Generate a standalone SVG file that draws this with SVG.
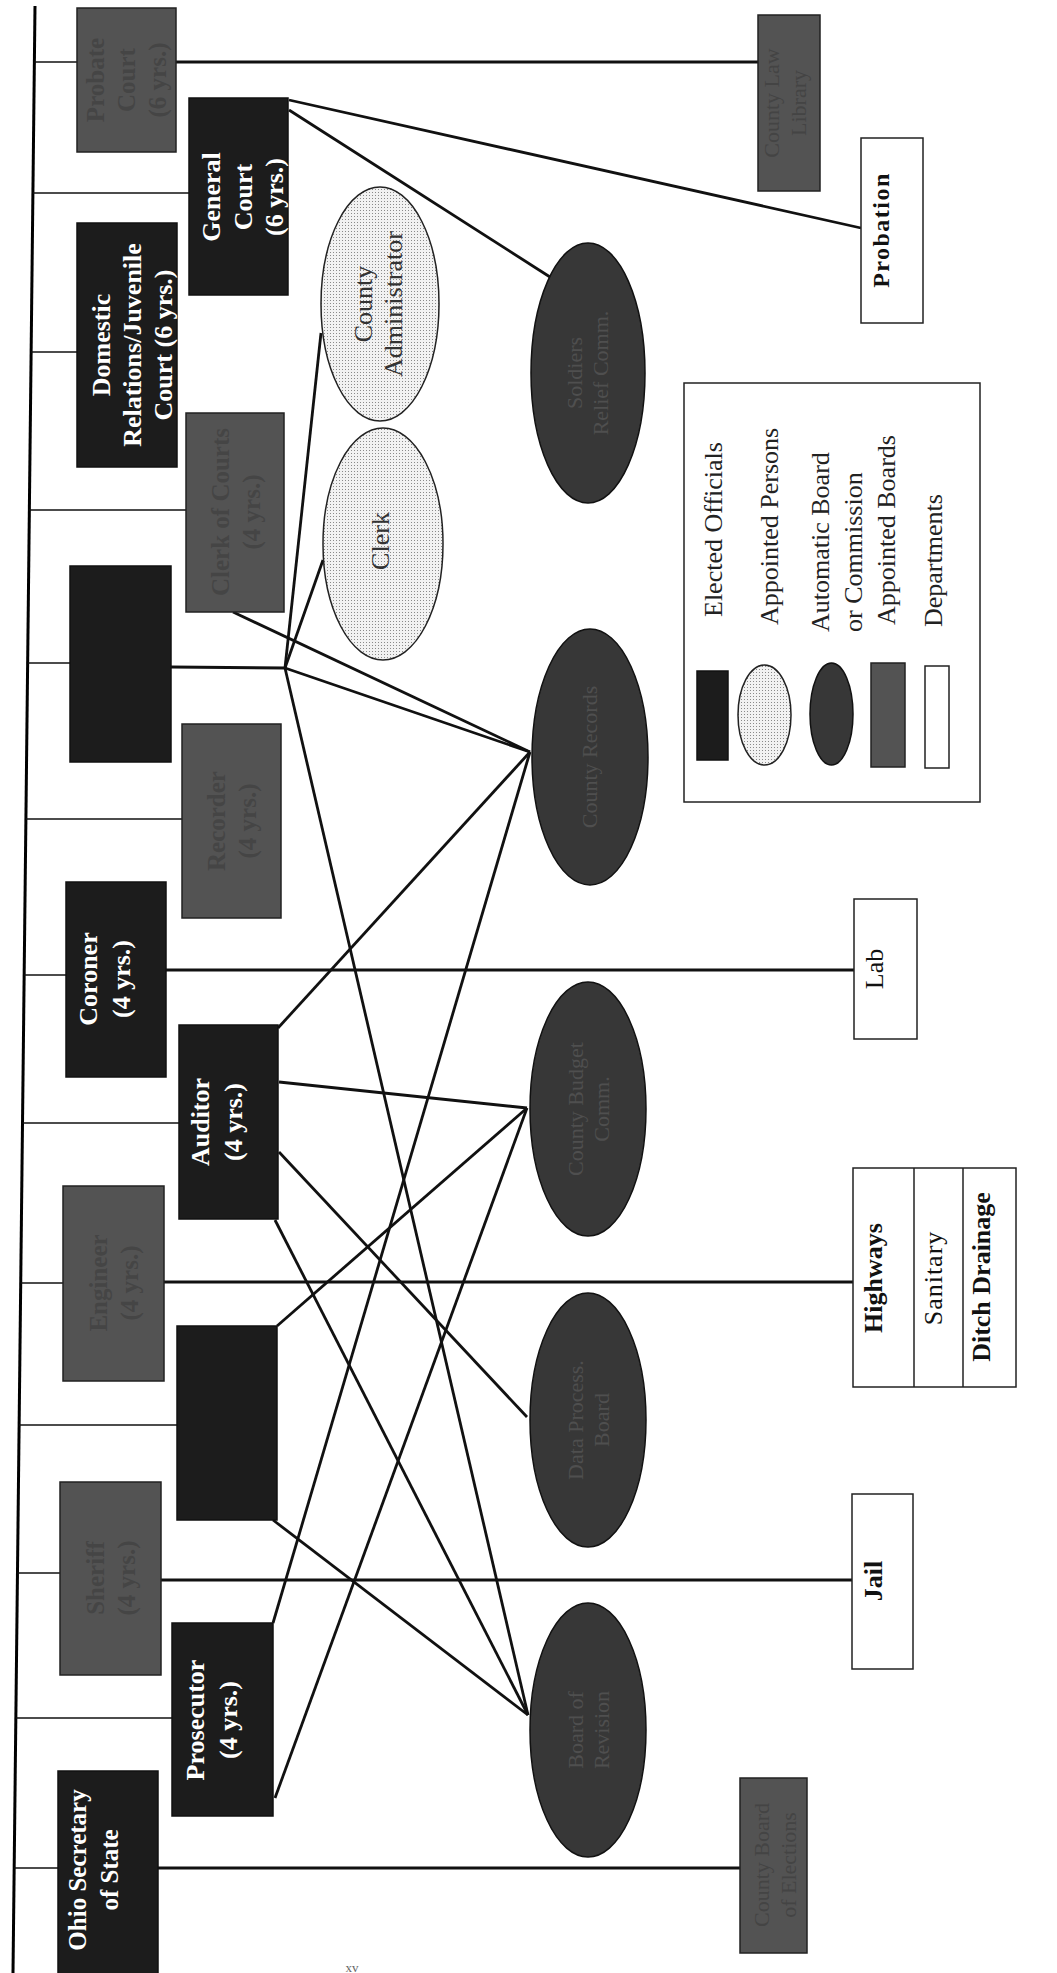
<svg xmlns="http://www.w3.org/2000/svg" width="1057" height="1973" viewBox="0 0 1057 1973">
<style>
text{font-family:"Liberation Serif","Times New Roman",serif;}
.elected{fill:#1c1c1c;stroke:#111;stroke-width:1.5;}
.board{fill:#535353;stroke:#222;stroke-width:1.5;}
.auto{fill:#373737;stroke:#111;stroke-width:1.5;}
.person{fill:url(#dots);stroke:#222;stroke-width:1.5;}
.dept{fill:#fff;stroke:#222;stroke-width:1.5;}
.wt{fill:#fff;font-weight:bold;font-size:26px;text-anchor:middle;}
.ft{fill:#454545;font-weight:bold;font-size:25px;text-anchor:middle;}
.fe{fill:#4f4f4f;font-size:22px;text-anchor:middle;}
.fb{fill:#444;font-size:22px;text-anchor:middle;}
.pt{fill:#333;font-size:26px;text-anchor:middle;}
.dt{fill:#111;font-size:26px;text-anchor:middle;}
.db{fill:#111;font-size:26px;font-weight:bold;text-anchor:middle;}
.lg{fill:#222;font-size:26px;}
.spine{stroke:#000;stroke-width:3;fill:none;}
.br{stroke:#111;stroke-width:1.6;fill:none;}
.ln{stroke:#111;stroke-width:2.8;fill:none;}
</style>
<defs>
<pattern id="dots" width="3" height="3" patternUnits="userSpaceOnUse">
<rect width="3" height="3" fill="#f2f2f2"/>
<rect width="1" height="1" fill="#8a8a8a"/>
</pattern>
</defs>
<rect width="1057" height="1973" fill="#fff"/>

<g id="connectors">
<line class="spine" x1="35" y1="6" x2="13" y2="1973"/>
<line class="br" x1="34.4" y1="62" x2="77" y2="62"/>
<line class="br" x1="32.9" y1="193" x2="189" y2="193"/>
<line class="br" x1="31.1" y1="352" x2="77" y2="352"/>
<line class="br" x1="29.4" y1="510" x2="186" y2="510"/>
<line class="br" x1="27.7" y1="663" x2="70" y2="663"/>
<line class="br" x1="25.9" y1="819" x2="182" y2="819"/>
<line class="br" x1="24.2" y1="975" x2="66" y2="975"/>
<line class="br" x1="22.5" y1="1123" x2="179" y2="1123"/>
<line class="br" x1="20.7" y1="1283" x2="63" y2="1283"/>
<line class="br" x1="19.1" y1="1425" x2="177" y2="1425"/>
<line class="br" x1="17.5" y1="1573" x2="60" y2="1573"/>
<line class="br" x1="15.9" y1="1718" x2="172" y2="1718"/>
<line class="br" x1="14.2" y1="1868" x2="58" y2="1868"/>
<line class="ln" x1="176" y1="62" x2="758" y2="62"/>
<line class="ln" x1="171" y1="667" x2="285" y2="668"/>
<line class="ln" x1="166" y1="970" x2="854" y2="970"/>
<line class="ln" x1="164" y1="1282" x2="853" y2="1282"/>
<line class="ln" x1="161" y1="1580" x2="852" y2="1580"/>
<line class="ln" x1="158" y1="1868" x2="740" y2="1868"/>
<line class="ln" x1="289" y1="100" x2="861" y2="228"/>
<line class="ln" x1="289" y1="110" x2="550" y2="277"/>
<line class="ln" x1="285" y1="668" x2="321" y2="333"/>
<line class="ln" x1="285" y1="668" x2="323" y2="560"/>
<line class="ln" x1="285" y1="668" x2="530" y2="752"/>
<line class="ln" x1="285" y1="668" x2="528" y2="1715"/>
<line class="ln" x1="233" y1="612" x2="530" y2="752"/>
<line class="ln" x1="278" y1="1028" x2="530" y2="752"/>
<line class="ln" x1="273" y1="1623" x2="530" y2="752"/>
<line class="ln" x1="279" y1="1082" x2="527" y2="1108"/>
<line class="ln" x1="277" y1="1326" x2="527" y2="1108"/>
<line class="ln" x1="275" y1="1798" x2="527" y2="1108"/>
<line class="ln" x1="279" y1="1152" x2="527" y2="1417"/>
<line class="ln" x1="275" y1="1220" x2="528" y2="1715"/>
<line class="ln" x1="273" y1="1520" x2="528" y2="1715"/>
</g>

<g id="probate-court">
<rect class="board" x="77" y="8" width="99" height="144"/>
<text class="ft" transform="translate(104,80) rotate(-90)">Probate<tspan x="0" dy="31">Court</tspan><tspan x="0" dy="31">(6 yrs.)</tspan></text>
</g>
<g id="county-law-library">
<rect class="board" x="758" y="15" width="62" height="176"/>
<text class="fb" transform="translate(779,103) rotate(-90)">County Law<tspan x="0" dy="27">Library</tspan></text>
</g>
<g id="general-court">
<rect class="elected" x="189" y="98" width="99" height="197"/>
<text class="wt" transform="translate(220,197) rotate(-90)">General<tspan x="0" dy="32">Court</tspan><tspan x="0" dy="31">(6 yrs.)</tspan></text>
</g>
<g id="domestic-relations">
<rect class="elected" x="77" y="223" width="100" height="244"/>
<text class="wt" transform="translate(110,345) rotate(-90)">Domestic<tspan x="0" dy="31">Relations/Juvenile</tspan><tspan x="0" dy="31">Court (6 yrs.)</tspan></text>
</g>
<g id="county-administrator">
<ellipse class="person" cx="380" cy="304" rx="59" ry="117"/>
<text class="pt" transform="translate(372,304) rotate(-90)">County<tspan x="0" dy="30">Administrator</tspan></text>
</g>
<g id="clerk-of-courts">
<rect class="board" x="186" y="413" width="98" height="199"/>
<text class="ft" transform="translate(229,512) rotate(-90)">Clerk of Courts<tspan x="0" dy="31">(4 yrs.)</tspan></text>
</g>
<g id="clerk">
<ellipse class="person" cx="383" cy="544" rx="60" ry="116"/>
<text class="pt" transform="translate(389,541) rotate(-90)">Clerk</text>
</g>
<g id="commissioners">
<rect class="elected" x="70" y="566" width="101" height="196"/>
</g>
<g id="recorder">
<rect class="board" x="182" y="724" width="99" height="194"/>
<text class="ft" transform="translate(225,821) rotate(-90)">Recorder<tspan x="0" dy="31">(4 yrs.)</tspan></text>
</g>
<g id="coroner">
<rect class="elected" x="66" y="882" width="100" height="195"/>
<text class="wt" transform="translate(97,979) rotate(-90)">Coroner<tspan x="0" dy="33">(4 yrs.)</tspan></text>
</g>
<g id="auditor">
<rect class="elected" x="179" y="1025" width="99" height="194"/>
<text class="wt" transform="translate(209,1122) rotate(-90)">Auditor<tspan x="0" dy="33">(4 yrs.)</tspan></text>
</g>
<g id="engineer">
<rect class="board" x="63" y="1186" width="101" height="195"/>
<text class="ft" transform="translate(107,1283) rotate(-90)">Engineer<tspan x="0" dy="31">(4 yrs.)</tspan></text>
</g>
<g id="treasurer">
<rect class="elected" x="177" y="1326" width="100" height="194"/>
</g>
<g id="sheriff">
<rect class="board" x="60" y="1482" width="101" height="193"/>
<text class="ft" transform="translate(104,1578) rotate(-90)">Sheriff<tspan x="0" dy="31">(4 yrs.)</tspan></text>
</g>
<g id="prosecutor">
<rect class="elected" x="172" y="1623" width="101" height="193"/>
<text class="wt" transform="translate(204,1720) rotate(-90)">Prosecutor<tspan x="0" dy="33">(4 yrs.)</tspan></text>
</g>
<g id="ohio-secretary-of-state">
<rect class="elected" x="58" y="1771" width="100" height="210"/>
<text class="wt" style="font-size:25px" transform="translate(86,1870) rotate(-90)">Ohio Secretary<tspan x="0" dy="32">of State</tspan></text>
</g>
<g id="county-board-of-elections">
<rect class="board" x="740" y="1778" width="67" height="175"/>
<text class="fb" transform="translate(769,1865) rotate(-90)">County Board<tspan x="0" dy="27">of Elections</tspan></text>
</g>

<g id="soldiers-relief">
<ellipse class="auto" cx="588" cy="373" rx="57" ry="130"/>
<text class="fe" transform="translate(582,373) rotate(-90)">Soldiers<tspan x="0" dy="26">Relief Comm.</tspan></text>
</g>
<g id="county-records">
<ellipse class="auto" cx="590" cy="757" rx="58" ry="128"/>
<text class="fe" transform="translate(597,757) rotate(-90)">County Records</text>
</g>
<g id="county-budget">
<ellipse class="auto" cx="588" cy="1109" rx="58" ry="127"/>
<text class="fe" transform="translate(583,1109) rotate(-90)">County Budget<tspan x="0" dy="26">Comm.</tspan></text>
</g>
<g id="data-processing">
<ellipse class="auto" cx="588" cy="1420" rx="58" ry="127"/>
<text class="fe" transform="translate(583,1420) rotate(-90)">Data Process.<tspan x="0" dy="26">Board</tspan></text>
</g>
<g id="board-of-revision">
<ellipse class="auto" cx="588" cy="1730" rx="58" ry="127"/>
<text class="fe" transform="translate(583,1730) rotate(-90)">Board of<tspan x="0" dy="26">Revision</tspan></text>
</g>

<g id="probation">
<rect class="dept" x="861" y="138" width="62" height="185"/>
<text class="db" style="font-size:24px;letter-spacing:1.5px" transform="translate(889,230) rotate(-90)">Probation</text>
</g>
<g id="lab">
<rect class="dept" x="854" y="899" width="63" height="140"/>
<text class="dt" transform="translate(883,969) rotate(-90)">Lab</text>
</g>
<g id="engineer-departments">
<rect class="dept" x="853" y="1168" width="163" height="219"/>
<line x1="914" y1="1168" x2="914" y2="1387" stroke="#222" stroke-width="1.5"/>
<line x1="963" y1="1168" x2="963" y2="1387" stroke="#222" stroke-width="1.5"/>
<text class="db" transform="translate(882,1278) rotate(-90)">Highways</text>
<text class="dt" style="letter-spacing:1px" transform="translate(942,1278) rotate(-90)">Sanitary</text>
<text class="db" transform="translate(990,1277) rotate(-90)">Ditch Drainage</text>
</g>
<g id="jail">
<rect class="dept" x="852" y="1494" width="61" height="175"/>
<text class="db" transform="translate(882,1581) rotate(-90)">Jail</text>
</g>

<g id="legend">
<rect x="684" y="383" width="296" height="419" fill="#fff" stroke="#222" stroke-width="1.5"/>
<rect class="elected" x="697" y="671" width="31" height="89"/>
<ellipse class="person" cx="764.5" cy="715" rx="26.5" ry="50"/>
<ellipse class="auto" cx="831.5" cy="714" rx="21.5" ry="51"/>
<rect class="board" x="871" y="663" width="34" height="104"/>
<rect class="dept" x="925" y="666" width="24" height="102"/>
<text class="lg" transform="translate(722,617) rotate(-90)">Elected Officials</text>
<text class="lg" transform="translate(778,625) rotate(-90)">Appointed Persons</text>
<text class="lg" transform="translate(829,632) rotate(-90)">Automatic Board</text>
<text class="lg" transform="translate(862,632) rotate(-90)">or Commission</text>
<text class="lg" transform="translate(895,625) rotate(-90)">Appointed Boards</text>
<text class="lg" transform="translate(942,627) rotate(-90)">Departments</text>
</g>
<text x="352" y="1972" font-size="13" fill="#666" text-anchor="middle">xv</text>
</svg>
